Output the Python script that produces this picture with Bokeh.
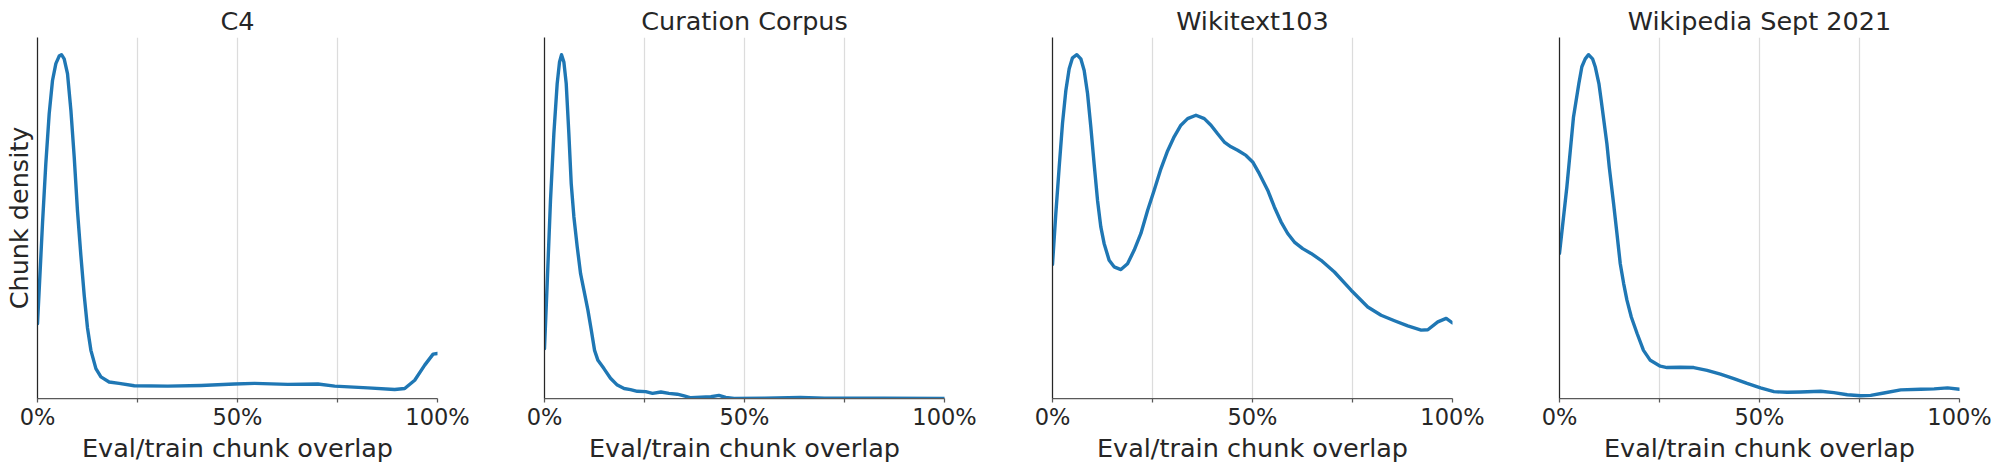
from bokeh.plotting import figure
from bokeh.layouts import row
from bokeh.models import Range1d, FixedTicker
from bokeh.embed import file_html
from bokeh.resources import INLINE

# ---- data (x: eval/train chunk overlap in %, y: chunk density, normalised to peak) ----
titles = ["C4", "Curation Corpus", "Wikitext103", "Wikipedia Sept 2021"]

c4_x = [0, 0.42, 1.25, 2.08, 2.92, 3.75, 4.59, 5.42, 6.0, 6.67, 7.5, 8.35, 9.18, 10.0,
        10.85, 11.68, 12.5, 13.35, 14.6, 15.85, 17.9, 20.4, 24.2, 32.55, 40.9, 49.25,
        54.26, 62.6, 70.1, 74.3, 82.6, 89.3, 91.8, 94.3, 96.8, 98.9, 100]
c4_y = [0.218, 0.315, 0.509, 0.683, 0.828, 0.925, 0.974, 0.996, 1.0, 0.988, 0.945, 0.838,
        0.702, 0.545, 0.415, 0.3, 0.205, 0.14, 0.087, 0.063, 0.048, 0.044, 0.037, 0.036,
        0.038, 0.042, 0.044, 0.041, 0.042, 0.036, 0.031, 0.026, 0.029, 0.053, 0.097,
        0.129, 0.131]

cc_x = [0, 0.67, 1.5, 2.34, 3.17, 3.76, 4.26, 4.84, 5.43, 6.09, 6.68, 7.35, 8.18, 9.02,
        9.85, 10.85, 11.69, 12.52, 13.36, 14.86, 16.5, 18.2, 19.9, 21.5, 23.2, 25.3,
        27.0, 29.1, 31.1, 33.2, 34.9, 36.6, 39.1, 41.6, 43.6, 45.3, 47.4, 55.0, 64.0,
        70.0, 85.0, 100]
cc_y = [0.145, 0.334, 0.577, 0.77, 0.916, 0.979, 1.0, 0.979, 0.916, 0.77, 0.625, 0.528,
        0.441, 0.363, 0.315, 0.257, 0.199, 0.14, 0.111, 0.087, 0.059, 0.039, 0.029,
        0.026, 0.021, 0.02, 0.015, 0.019, 0.015, 0.0125, 0.0076, 0.002, 0.004, 0.005,
        0.009, 0.003, 0.0, 0.001, 0.003, 0.001, 0.001, 0.0]

wt_x = [0, 0.83, 1.67, 2.5, 3.34, 4.17, 5.0, 6.08, 7.08, 7.92, 8.76, 9.58, 10.4, 11.26,
        12.08, 12.9, 14.16, 15.4, 17.1, 18.76, 20.4, 22.1, 23.77, 25.4, 27.1, 28.77,
        30.44, 32.1, 33.78, 35.86, 37.95, 39.62, 41.28, 42.95, 44.62, 46.29, 48.37,
        50.04, 51.71, 53.8, 55.46, 57.13, 58.8, 60.47, 62.55, 64.64, 67.14, 70.48,
        74.65, 78.82, 82.15, 85.49, 88.82, 92.16, 93.83, 96.33, 98.42, 100]
wt_y = [0.39, 0.538, 0.673, 0.8, 0.896, 0.959, 0.991, 1.0, 0.988, 0.954, 0.887, 0.79,
        0.683, 0.576, 0.499, 0.451, 0.402, 0.383, 0.375, 0.392, 0.431, 0.48, 0.547,
        0.605, 0.668, 0.72, 0.762, 0.795, 0.814, 0.824, 0.814, 0.795, 0.77, 0.746,
        0.732, 0.722, 0.707, 0.688, 0.654, 0.606, 0.557, 0.514, 0.48, 0.455, 0.436,
        0.422, 0.402, 0.368, 0.315, 0.266, 0.242, 0.226, 0.211, 0.199, 0.2, 0.223,
        0.233, 0.22]

wp_x = [0, 1.84, 3.5, 4.84, 5.59, 6.43, 7.26, 8.26, 8.93, 9.85, 10.43, 11.85, 12.44,
        13.52, 14.36, 15.19, 16.03, 16.86, 17.95, 19.4, 21.0, 22.7, 25.2, 26.88, 30.2,
        33.56, 36.9, 40.23, 43.57, 46.9, 50.25, 53.6, 56.93, 60.27, 65.28, 68.6, 71.95,
        75.3, 77.8, 81.1, 85.3, 90.3, 93.66, 97.0, 100]
wp_y = [0.422, 0.615, 0.819, 0.916, 0.965, 0.988, 1.0, 0.988, 0.965, 0.916, 0.867, 0.741,
        0.673, 0.567, 0.48, 0.392, 0.335, 0.286, 0.237, 0.189, 0.14, 0.111, 0.094, 0.09,
        0.091, 0.09, 0.082, 0.071, 0.058, 0.044, 0.031, 0.02, 0.018, 0.019, 0.021,
        0.017, 0.011, 0.008, 0.009, 0.016, 0.025, 0.027, 0.028, 0.031, 0.027]

x_ticks = [0, 25, 50, 75, 100]
x_tick_labels = ["0%", "", "50%", "", "100%"]
x_label = "Eval/train chunk overlap"
y_label = "Chunk density"

series = [(c4_x, c4_y), (cc_x, cc_y), (wt_x, wt_y), (wp_x, wp_y)]

TEXT = "#262626"
FONT = "DejaVu Sans"
FRAME_W, FRAME_H = 400, 361
borders = [(37, 53), (54, 54), (54, 53), (54, 40)]

figs = []
for i, (title, (xs, ys)) in enumerate(zip(titles, series)):
    left, right = borders[i]
    p = figure(frame_width=FRAME_W, frame_height=FRAME_H,
               min_border_left=left, min_border_right=right,
               min_border_top=37, min_border_bottom=40,
               x_range=Range1d(0, 100), y_range=Range1d(0, 1.05),
               output_backend="svg", toolbar_location=None,
               title=title)
    p.outline_line_color = None
    p.background_fill_color = "white"
    p.border_fill_color = "white"

    p.title.align = "center"
    p.title.text_font = FONT
    p.title.text_font_size = "25.5px"
    p.title.text_font_style = "normal"
    p.title.text_color = TEXT
    p.title.standoff = 3

    xa = p.xaxis[0]
    xa.ticker = FixedTicker(ticks=x_ticks)
    xa.major_label_overrides = {t: l for t, l in zip(x_ticks, x_tick_labels)}
    xa.major_label_text_font = FONT
    xa.major_label_text_font_size = "22.5px"
    xa.major_label_text_color = TEXT
    xa.major_label_standoff = 1
    xa.axis_label = x_label
    xa.axis_label_text_font = FONT
    xa.axis_label_text_font_size = "25.5px"
    xa.axis_label_text_font_style = "normal"
    xa.axis_label_text_color = TEXT
    xa.axis_label_standoff = 0
    xa.axis_line_color = "#595959"
    xa.axis_line_width = 1.25
    xa.major_tick_line_color = "#595959"
    xa.major_tick_line_width = 1.25
    xa.major_tick_out = 4
    xa.major_tick_in = 0
    xa.minor_tick_line_color = None

    ya = p.yaxis[0]
    ya.ticker = FixedTicker(ticks=[])
    ya.axis_line_color = TEXT
    ya.axis_line_width = 1.25
    ya.major_tick_line_color = None
    ya.minor_tick_line_color = None
    ya.major_label_standoff = 0
    ya.major_tick_out = 0
    ya.major_tick_in = 0
    if i == 0:
        ya.axis_label = y_label
        ya.axis_label_text_font = FONT
        ya.axis_label_text_font_size = "25.5px"
        ya.axis_label_text_font_style = "normal"
        ya.axis_label_text_color = TEXT
        ya.axis_label_standoff = 4

    p.xgrid.ticker = FixedTicker(ticks=x_ticks)
    p.xgrid.grid_line_color = "#dcdcdc"
    p.xgrid.grid_line_width = 1.25
    p.ygrid.grid_line_color = None

    p.line(xs, ys, line_color="#1f77b4", line_width=3.4, line_join="round", line_cap="round")
    figs.append(p)

layout = row(*figs, spacing=0)
open("out.html", "w").write(file_html(layout, INLINE))
